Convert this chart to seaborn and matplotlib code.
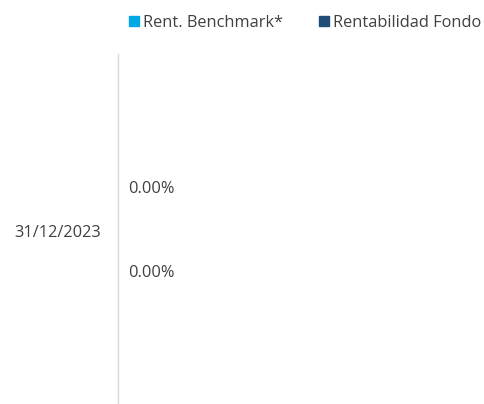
import matplotlib
matplotlib.use("Agg")
import matplotlib.pyplot as plt
from matplotlib.lines import Line2D
import seaborn as sns
import pandas as pd

categories = ["31/12/2023"]
series = ["Rent. Benchmark*", "Rentabilidad Fondo"]
benchmark = [0.0]
fondo = [0.0]
colors = ["#00A9E6", "#1F4E79"]

sns.set_theme(style="white")
plt.rcParams["font.family"] = ["Open Sans", "DejaVu Sans"]
text_color = "#404040"
fs = 11.8

df = pd.DataFrame({
    "fecha": categories * 2,
    "serie": [series[0]] * len(categories) + [series[1]] * len(categories),
    "valor": benchmark + fondo,
})

fig = plt.figure(figsize=(4.85, 4.04), dpi=100)
ax = fig.add_axes([118 / 485, -4 / 404, 1 - 118 / 485, (408 - 54) / 404])

sns.barplot(data=df, y="fecha", x="valor", hue="serie", orient="h",
            palette=colors, width=0.47, ax=ax, legend=False)

ax.set_ylim(0.5, -0.5)
ax.set_xlim(0, 1)
for cont in ax.containers:
    ax.bar_label(cont, labels=[f"{v:.2f}%" for v in cont.datavalues],
                 padding=7, fontsize=fs, color=text_color)

ax.set_xlabel("")
ax.set_ylabel("")
ax.set_xticks([])
ax.tick_params(axis="y", length=0, pad=12, labelsize=fs, labelcolor=text_color)
ax.set_yticks([-0.5], minor=True)
ax.tick_params(axis="y", which="minor", length=6, color="#d9d9d9", width=1)
for s in ["top", "right", "bottom"]:
    ax.spines[s].set_visible(False)
ax.spines["left"].set_color("#d9d9d9")
ax.spines["left"].set_linewidth(1)

handles = [Line2D([], [], marker="s", linestyle="", markersize=7.5,
                  markerfacecolor=c, markeredgecolor=c) for c in colors]
fig.legend(handles, series, loc="center", bbox_to_anchor=(304 / 485, 1 - 23 / 404),
           ncol=2, frameon=False, fontsize=fs, handletextpad=0.05,
           columnspacing=2.0, labelcolor=text_color, handlelength=1.0)

fig.savefig("out.png", dpi=100)
